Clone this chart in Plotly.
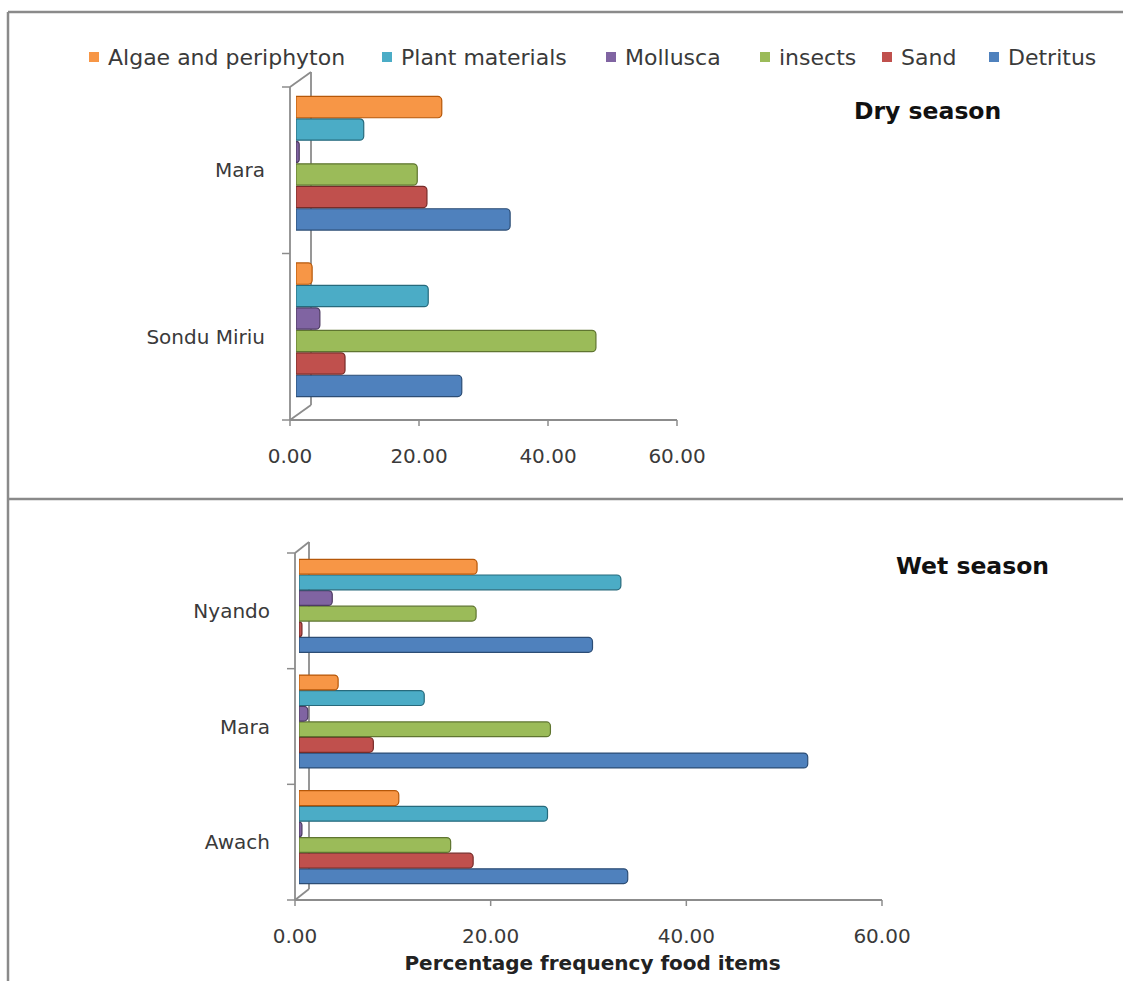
import plotly.graph_objects as go

# ---- data -------------------------------------------------------------
food_items = ["Detritus", "Sand", "insects", "Mollusca", "Plant materials", "Algae and periphyton"]
colors = ["#4F81BD", "#C0504D", "#9BBB59", "#8064A2", "#4BACC6", "#F79646"]
edge_colors = ["#2C4D75", "#772C2A", "#5F7530", "#4D3B62", "#276A7C", "#B65708"]

dry_sites = ["Sondu Miriu", "Mara"]
dry_detritus = [25.7, 33.2]
dry_sand = [7.6, 20.3]
dry_insects = [46.5, 18.8]
dry_mollusca = [3.7, 0.5]
dry_plant = [20.5, 10.5]
dry_algae = [2.5, 22.6]

wet_sites = ["Awach", "Mara", "Nyando"]
wet_detritus = [33.6, 52.0, 30.0]
wet_sand = [17.8, 7.6, 0.3]
wet_insects = [15.5, 25.7, 18.1]
wet_mollusca = [0.3, 0.9, 3.4]
wet_plant = [25.4, 12.8, 32.9]
wet_algae = [10.2, 4.0, 18.2]

x_tick_vals = [0, 20, 40, 60]
x_tick_text = ["0.00", "20.00", "40.00", "60.00"]

# ---- page geometry ---------------------------------------------------------
W, H = 1123, 981


def px(x):
    return x / W


def py(y):
    return 1 - y / H


FONT = "DejaVu Sans"
AXIS_GREY = "#8c8c8c"
TEXT = "#3a3a3a"

# each panel: bar plane box (left, right, top, bottom in px) and depth offset
# of the front plane (dx to the left, dy downward)
panels = {
    "top": dict(left=296, right=683, top=80, bottom=413, dx=6, dy=7, depth=(21, 15)),
    "bot": dict(left=299, right=886, top=548, bottom=895, dx=4, dy=5, depth=(14, 11)),
}

# legend row: left edge of each key square (legend order: last series first)
legend_key_x = [89, 382, 606, 760, 882, 989]
legend_y = 57

dry_series = [dry_detritus, dry_sand, dry_insects, dry_mollusca, dry_plant, dry_algae]
wet_series = [wet_detritus, wet_sand, wet_insects, wet_mollusca, wet_plant, wet_algae]

fig = go.Figure()

for name, vals, c, ec in zip(food_items, dry_series, colors, edge_colors):
    fig.add_trace(go.Bar(
        y=dry_sites, x=vals, name=name, orientation="h",
        marker=dict(color=c, line=dict(color=ec, width=1.2), cornerradius=4),
        xaxis="x", yaxis="y", showlegend=False,
    ))

for name, vals, c, ec in zip(food_items, wet_series, colors, edge_colors):
    fig.add_trace(go.Bar(
        y=wet_sites, x=vals, name=name, orientation="h",
        marker=dict(color=c, line=dict(color=ec, width=1.2), cornerradius=4),
        xaxis="x2", yaxis="y2", showlegend=False,
    ))

tickfont = dict(family=FONT, size=20, color=TEXT)


def value_axis(p, anchor):
    return dict(
        domain=[px(p["left"]), px(p["right"])], anchor=anchor, range=[0, 60],
        tickmode="array", tickvals=x_tick_vals, ticktext=x_tick_text,
        showline=False, ticks="", showgrid=False, zeroline=False, automargin=False,
        tickfont=tickfont, ticklabelshift=-p["dx"], ticklabelstandoff=p["dy"] + 22,
        fixedrange=True,
    )


def category_axis(p, anchor, sites):
    return dict(
        domain=[py(p["bottom"]), py(p["top"])], anchor=anchor,
        type="category", categoryorder="array", categoryarray=sites,
        range=[-0.5, len(sites) - 0.5],
        showline=False, ticks="", showgrid=False, zeroline=False, automargin=False,
        tickfont=tickfont, ticklabelshift=p["dy"], ticklabelstandoff=p["dx"] + 24,
        fixedrange=True,
    )


fig.update_layout(
    width=W, height=H,
    margin=dict(l=0, r=0, t=0, b=0, autoexpand=False),
    paper_bgcolor="white", plot_bgcolor="rgba(0,0,0,0)",
    barmode="group", bargap=0.19, bargroupgap=0.05,
    font=dict(family=FONT, color=TEXT),
    xaxis=value_axis(panels["top"], "y"),
    yaxis=category_axis(panels["top"], "x", dry_sites),
    xaxis2=value_axis(panels["bot"], "y2"),
    yaxis2=category_axis(panels["bot"], "x2", wet_sites),
    showlegend=False,
)

fig.update_layout(xaxis2_title=dict(
    text="<b>Percentage frequency food items</b>",
    font=dict(family=FONT, size=20, color="#222"), standoff=8))

# legend row: coloured key squares with the series names
for kx, name, c in zip(legend_key_x, food_items[::-1], colors[::-1]):
    fig.add_shape(type="rect", xref="paper", yref="paper",
                  x0=px(kx), x1=px(kx + 10), y0=py(legend_y - 5), y1=py(legend_y + 5),
                  fillcolor=c, line=dict(width=0))
    fig.add_annotation(x=px(kx + 17), y=py(legend_y), xref="paper", yref="paper",
                       xanchor="left", yanchor="middle", showarrow=False,
                       text=name, font=dict(family=FONT, size=22, color=TEXT))

# panel titles
fig.add_annotation(x=px(927), y=py(111), xref="paper", yref="paper", showarrow=False,
                   xanchor="center", yanchor="middle",
                   text="<b>Dry season</b>", font=dict(family=FONT, size=23.5, color="#111"))
fig.add_annotation(x=px(972), y=py(566), xref="paper", yref="paper", showarrow=False,
                   xanchor="center", yanchor="middle",
                   text="<b>Wet season</b>", font=dict(family=FONT, size=23.5, color="#111"))

# outer chart frames
frame = dict(color="#8a8a8a", width=2.5)
for (x0, y0, x1, y1) in [(8, 12, W + 5, 12), (8, 12, 8, H + 5), (8, 499, W + 5, 499)]:
    fig.add_shape(type="line", xref="paper", yref="paper",
                  x0=px(x0), y0=py(y0), x1=px(x1), y1=py(y1), line=frame)


def seg(x0, y0, x1, y1, width=1.8):
    fig.add_shape(type="line", xref="paper", yref="paper", layer="below",
                  x0=px(x0), y0=py(y0), x1=px(x1), y1=py(y1),
                  line=dict(color=AXIS_GREY, width=width))


# 3-D box: front axes, back wall and the edges joining them
for key, n_cat in (("top", len(dry_sites)), ("bot", len(wet_sites))):
    p = panels[key]
    fl, fr = p["left"] - p["dx"], p["right"] - p["dx"]
    ft, fb = p["top"] + p["dy"], p["bottom"] + p["dy"]
    bx = fl + p["depth"][0]
    seg(fl, ft, fl, fb)                     # front category axis
    seg(fl, fb, fr, fb)                     # front value axis
    seg(bx, ft - p["depth"][1], bx, fb - p["depth"][1])   # back wall edge
    seg(fl, fb, bx, fb - p["depth"][1])     # floor edge
    seg(fl, ft, bx, ft - p["depth"][1])     # top edge
    for v in x_tick_vals:
        tx = fl + (fr - fl) * v / 60.0
        seg(tx, fb, tx, fb + 6, 1.5)
    for i in range(n_cat + 1):
        ty = fb - (fb - ft) * i / n_cat
        seg(fl - 8, ty, fl, ty, 1.5)

fig.write_html("out.html")
